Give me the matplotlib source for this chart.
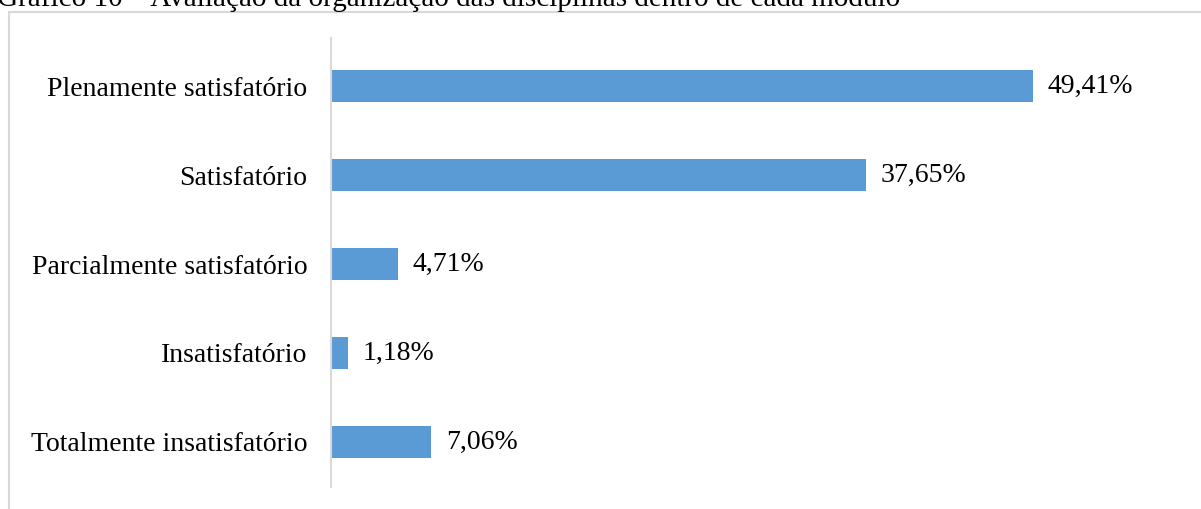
import matplotlib
matplotlib.use("Agg")
import matplotlib.pyplot as plt
from matplotlib.patches import Rectangle

# categories from top to bottom
categorias = ['Plenamente satisfatório', 'Satisfatório', 'Parcialmente satisfatório',
              'Insatisfatório', 'Totalmente insatisfatório']
valores = [49.41, 37.65, 4.71, 1.18, 7.06]
rotulos = ['49,41%', '37,65%', '4,71%', '1,18%', '7,06%']

titulo = 'Gráfico 10 – Avaliação da organização das disciplinas dentro de cada módulo'

plt.rcParams['font.family'] = ['Liberation Serif', 'DejaVu Serif']

W, H = 1201, 509
fig = plt.figure(figsize=(W / 100, H / 100), dpi=100)

# outer chart frame (right/bottom edges fall outside the image)
fig.patches.append(Rectangle((9 / W, -0.1), 1.2, 1 - 12 / H + 0.1,
                             transform=fig.transFigure, fill=False,
                             edgecolor='#D9D9D9', linewidth=1.5))

fig.text(-3 / W, 1 - 6 / H, titulo, fontsize=21, ha='left', va='baseline')

left, right = 331 / W, 1183 / W
top, bottom = 1 - 38 / H, 1 - 487 / H
ax = fig.add_axes([left, bottom, right - left, top - bottom])

pos = list(range(len(categorias)))
ax.barh(pos, valores, height=0.35, color='#5B9BD5')
ax.set_xlim(0, 60)
ax.set_ylim(4.506, -0.54)

for p, v, r in zip(pos, valores, rotulos):
    ax.text(v + 1.05, p, r, fontsize=20, va='center', ha='left')

ax.set_yticks(pos)
ax.set_yticklabels(categorias, fontsize=20)
ax.tick_params(axis='y', length=0, pad=17)
ax.set_xticks([])
for s in ['top', 'right', 'bottom']:
    ax.spines[s].set_visible(False)
ax.spines['left'].set_color('#D9D9D9')
ax.spines['left'].set_linewidth(1.5)

fig.savefig('out.png', dpi=100)
